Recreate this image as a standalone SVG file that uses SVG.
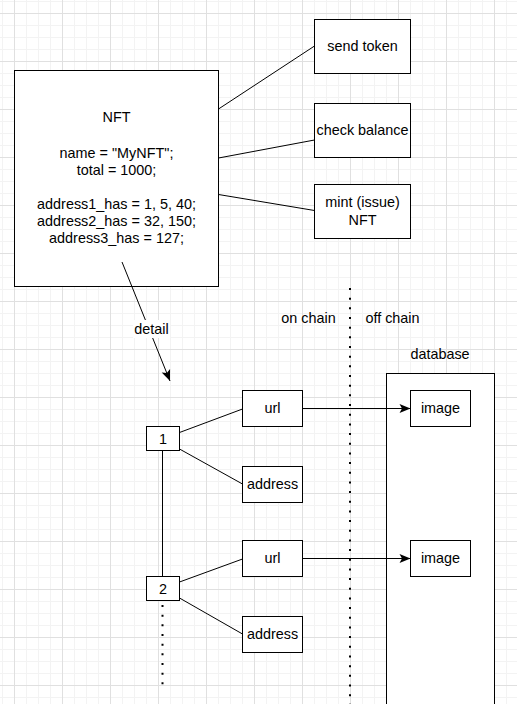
<svg xmlns="http://www.w3.org/2000/svg" width="517" height="704" viewBox="0 0 517 704">
<defs>
<pattern id="grid" x="14" y="13" width="48" height="48" patternUnits="userSpaceOnUse">
<rect x="12" y="0" width="1" height="48" fill="#f3f3f3"/>
<rect x="24" y="0" width="1" height="48" fill="#f3f3f3"/>
<rect x="36" y="0" width="1" height="48" fill="#f3f3f3"/>
<rect x="0" y="12" width="48" height="1" fill="#f3f3f3"/>
<rect x="0" y="24" width="48" height="1" fill="#f3f3f3"/>
<rect x="0" y="36" width="48" height="1" fill="#f3f3f3"/>
<rect x="0" y="0" width="1" height="48" fill="#e0e0e0"/>
<rect x="0" y="0" width="48" height="1" fill="#e0e0e0"/>
</pattern>
<marker id="arr" viewBox="-12 -6 13 12" refX="0" refY="0" markerWidth="13" markerHeight="12" markerUnits="userSpaceOnUse" orient="auto">
<path d="M0,0 L-11,-4.5 L-8.5,0 L-11,4.5 Z" fill="#000"/>
</marker>
</defs>
<style>
.box{fill:#fff;stroke:#000;stroke-width:1}
.t{font-family:"Liberation Sans",Arial,Helvetica,sans-serif;font-size:14.4px;fill:#000;text-anchor:middle}
.ln{stroke:#000;stroke-width:1;fill:none}
.dot{stroke:#000;stroke-width:2;stroke-dasharray:2 7.67;fill:none}
</style>
<rect width="517" height="704" fill="#fff"/>
<rect width="517" height="704" fill="url(#grid)"/>

<g id="connectors">
<line class="ln" x1="218.5" y1="109" x2="314.5" y2="46"/>
<line class="ln" x1="218.5" y1="158" x2="314.5" y2="140"/>
<line class="ln" x1="218.5" y1="194.5" x2="314.5" y2="210.5"/>
<line class="ln" x1="179.5" y1="432.5" x2="242.5" y2="409"/>
<line class="ln" x1="179.5" y1="449" x2="242.5" y2="484"/>
<line class="ln" x1="162.5" y1="450.5" x2="162.5" y2="576.5"/>
<line class="dot" x1="162.5" y1="605" x2="162.5" y2="688"/>
<line class="ln" x1="179.5" y1="582" x2="242.5" y2="559"/>
<line class="ln" x1="179.5" y1="598" x2="242.5" y2="634"/>
<line class="dot" x1="350" y1="288" x2="350" y2="704"/>
</g>

<g id="database">
<rect class="box" x="386.5" y="373.5" width="108" height="340"/>
<text class="t" x="440" y="359">database</text>
</g>

<g id="connectors-arrows">
<line class="ln" x1="302.5" y1="408.5" x2="410.5" y2="408.5" marker-end="url(#arr)"/>
<line class="ln" x1="302.5" y1="558.5" x2="410.5" y2="558.5" marker-end="url(#arr)"/>
</g>

<g id="nft">
<rect class="box" x="14.5" y="70.5" width="204" height="216"/>
<text class="t" x="116.5" y="122">NFT</text>
<text class="t" x="116.5" y="158">name = "MyNFT";</text>
<text class="t" x="116.5" y="175">total = 1000;</text>
<text class="t" x="116.5" y="209">address1_has = 1, 5, 40;</text>
<text class="t" x="116.5" y="226">address2_has = 32, 150;</text>
<text class="t" x="116.5" y="243">address3_has = 127;</text>
</g>

<g id="detail-connector">
<line class="ln" x1="122" y1="262" x2="170" y2="381" marker-end="url(#arr)"/>
<rect x="133" y="320" width="37" height="18" fill="#fff"/>
<text class="t" x="151.5" y="334">detail</text>
</g>

<g id="send-token">
<rect class="box" x="314.5" y="19.5" width="96" height="54"/>
<text class="t" x="362.5" y="51">send token</text>
</g>
<g id="check-balance">
<rect class="box" x="314.5" y="103.5" width="96" height="54"/>
<text class="t" x="362.5" y="135">check balance</text>
</g>
<g id="mint">
<rect class="box" x="314.5" y="184.5" width="96" height="54"/>
<text class="t" x="362.5" y="207">mint (issue)</text>
<text class="t" x="362.5" y="225">NFT</text>
</g>

<g id="labels">
<text class="t" x="308.5" y="323">on chain</text>
<text class="t" x="392.5" y="323">off chain</text>
</g>

<g id="node1">
<rect class="box" x="146.5" y="426.5" width="33" height="24"/>
<text class="t" x="163" y="444">1</text>
</g>
<g id="url1">
<rect class="box" x="242.5" y="390.5" width="60" height="36"/>
<text class="t" x="272.5" y="413">url</text>
</g>
<g id="address1">
<rect class="box" x="242.5" y="466.5" width="60" height="36"/>
<text class="t" x="272.5" y="489">address</text>
</g>
<g id="node2">
<rect class="box" x="146.5" y="576.5" width="33" height="24"/>
<text class="t" x="163" y="594">2</text>
</g>
<g id="url2">
<rect class="box" x="242.5" y="540.5" width="60" height="36"/>
<text class="t" x="272.5" y="563">url</text>
</g>
<g id="address2">
<rect class="box" x="242.5" y="616.5" width="60" height="36"/>
<text class="t" x="272.5" y="639">address</text>
</g>
<g id="image1">
<rect class="box" x="410.5" y="390.5" width="60" height="36"/>
<text class="t" x="440.5" y="413">image</text>
</g>
<g id="image2">
<rect class="box" x="410.5" y="540.5" width="60" height="36"/>
<text class="t" x="440.5" y="563">image</text>
</g>
</svg>
